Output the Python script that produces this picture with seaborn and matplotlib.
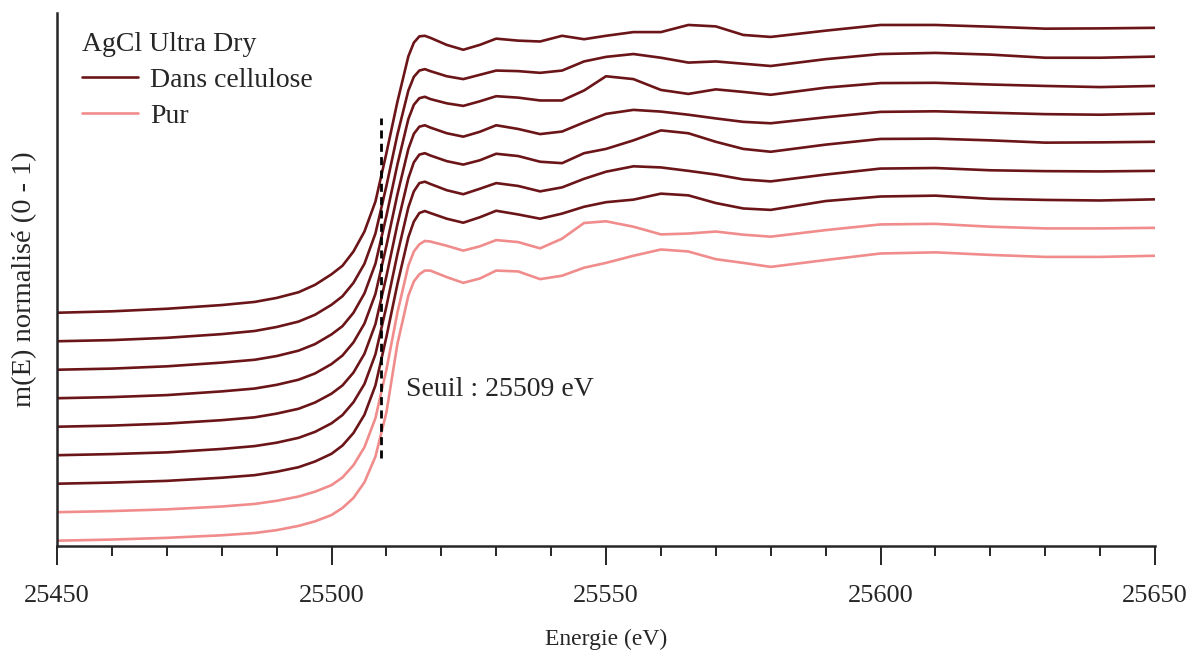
import numpy as np
import pandas as pd
import matplotlib
matplotlib.use('Agg')
import matplotlib.pyplot as plt
from matplotlib.ticker import MultipleLocator
import seaborn as sns

# energies (eV)
energie = [25450, 25460, 25470, 25480, 25486, 25490, 25494, 25497, 25500, 25502,
           25504, 25506, 25508, 25510, 25512, 25514, 25515, 25516, 25517, 25518,
           25521, 25524, 25527, 25530, 25534, 25538, 25542, 25546, 25550, 25555,
           25560, 25565, 25570, 25575, 25580, 25590, 25600, 25610, 25620, 25630,
           25640, 25650]

# spectres normalises, du haut vers le bas
cellulose_1 = [0.000, 0.005, 0.014, 0.027, 0.038, 0.052, 0.072, 0.098, 0.135, 0.165,
               0.215, 0.285, 0.390, 0.560, 0.740, 0.900, 0.948, 0.970, 0.972, 0.965,
               0.940, 0.923, 0.940, 0.962, 0.955, 0.952, 0.972, 0.960, 0.972, 0.985,
               0.985, 1.010, 1.005, 0.975, 0.968, 0.990, 1.010, 1.010, 1.004, 0.997,
               0.998, 1.000]
cellulose_2 = [0.000, 0.004, 0.012, 0.025, 0.036, 0.050, 0.069, 0.093, 0.128, 0.158,
               0.205, 0.272, 0.378, 0.545, 0.725, 0.880, 0.928, 0.950, 0.955, 0.948,
               0.930, 0.920, 0.935, 0.950, 0.948, 0.942, 0.950, 0.982, 0.998, 1.008,
               0.995, 0.978, 0.982, 0.974, 0.966, 0.990, 1.008, 1.012, 1.006, 0.995,
               0.995, 0.999]
cellulose_3 = [0.000, 0.004, 0.012, 0.025, 0.035, 0.048, 0.067, 0.090, 0.124, 0.153,
               0.200, 0.268, 0.372, 0.540, 0.720, 0.880, 0.930, 0.953, 0.958, 0.950,
               0.935, 0.926, 0.942, 0.960, 0.955, 0.945, 0.945, 0.980, 1.030, 1.020,
               0.982, 0.968, 0.984, 0.975, 0.965, 0.990, 1.006, 1.007, 1.001, 0.996,
               0.992, 0.996]
cellulose_4 = [0.000, 0.004, 0.011, 0.024, 0.034, 0.047, 0.065, 0.087, 0.120, 0.150,
               0.196, 0.262, 0.366, 0.535, 0.715, 0.875, 0.928, 0.953, 0.958, 0.950,
               0.930, 0.918, 0.935, 0.958, 0.945, 0.927, 0.936, 0.968, 0.998, 1.012,
               1.006, 0.995, 0.982, 0.970, 0.965, 0.986, 1.005, 1.007, 1.002, 0.997,
               0.995, 0.999]
cellulose_5 = [0.000, 0.004, 0.011, 0.023, 0.033, 0.046, 0.063, 0.085, 0.116, 0.145,
               0.190, 0.256, 0.360, 0.528, 0.710, 0.872, 0.928, 0.955, 0.960, 0.952,
               0.932, 0.920, 0.935, 0.958, 0.950, 0.930, 0.925, 0.960, 0.975, 1.005,
               1.040, 1.030, 1.000, 0.975, 0.965, 0.990, 1.010, 1.011, 1.005, 0.997,
               0.998, 1.000]
cellulose_6 = [0.000, 0.004, 0.010, 0.022, 0.032, 0.044, 0.061, 0.082, 0.112, 0.141,
               0.186, 0.250, 0.354, 0.522, 0.705, 0.870, 0.926, 0.955, 0.960, 0.952,
               0.930, 0.916, 0.935, 0.955, 0.945, 0.926, 0.940, 0.970, 0.995, 1.014,
               1.010, 0.998, 0.985, 0.968, 0.961, 0.985, 1.006, 1.008, 1.000, 0.997,
               0.996, 0.998]
cellulose_7 = [0.000, 0.004, 0.010, 0.021, 0.030, 0.042, 0.058, 0.078, 0.105, 0.134,
               0.178, 0.242, 0.345, 0.515, 0.700, 0.865, 0.920, 0.950, 0.957, 0.950,
               0.930, 0.916, 0.935, 0.958, 0.945, 0.930, 0.948, 0.972, 0.988, 0.997,
               1.018, 1.012, 0.985, 0.966, 0.961, 0.992, 1.008, 1.011, 1.000, 0.996,
               0.994, 0.998]
pur_1 = [0.000, 0.004, 0.010, 0.020, 0.029, 0.040, 0.055, 0.072, 0.095, 0.122,
         0.165, 0.228, 0.330, 0.500, 0.700, 0.865, 0.915, 0.940, 0.952, 0.950,
         0.935, 0.918, 0.933, 0.955, 0.948, 0.926, 0.960, 1.015, 1.021, 1.002,
         0.975, 0.978, 0.985, 0.974, 0.967, 0.990, 1.010, 1.012, 1.002, 0.996,
         0.996, 0.998]
pur_2 = [0.000, 0.004, 0.010, 0.019, 0.027, 0.037, 0.052, 0.068, 0.090, 0.115,
         0.150, 0.205, 0.295, 0.450, 0.690, 0.860, 0.910, 0.935, 0.948, 0.948,
         0.925, 0.905, 0.920, 0.948, 0.945, 0.918, 0.930, 0.958, 0.975, 1.000,
         1.022, 1.015, 0.988, 0.975, 0.961, 0.985, 1.008, 1.012, 1.003, 0.996,
         0.996, 1.000]

courbes = [cellulose_1, cellulose_2, cellulose_3, cellulose_4, cellulose_5,
           cellulose_6, cellulose_7, pur_1, pur_2]
types = ['Dans cellulose'] * 7 + ['Pur'] * 2
seuil = 25509

decalage = 0.1  # ecart vertical entre spectres
couleurs = {'Dans cellulose': '#6b1518', 'Pur': '#f08c8c'}

rows = []
n = len(courbes)
for i, (vals, t) in enumerate(zip(courbes, types)):
    for e, v in zip(energie, vals):
        rows.append({'energie': e, 'mu': v + (n - 1 - i) * decalage,
                     'courbe': i, 'echantillon': t})
df = pd.DataFrame(rows)

sns.set_style('ticks')
plt.rcParams['font.family'] = ['Liberation Serif', 'DejaVu Serif']

fig = plt.figure(figsize=(11.93, 6.53), dpi=100)
ax = fig.add_axes([57 / 1193, 107 / 653, 1098 / 1193, 533 / 653])

sns.lineplot(data=df, x='energie', y='mu', hue='echantillon', units='courbe',
             estimator=None, sort=False, palette=couleurs, linewidth=1.9, ax=ax)

ax.vlines(seuil, 0.29, 1.483, colors='black', linestyles=(0, (2.9, 1.9)),
          linewidth=2, zorder=5)
ax.text(25513.6, 0.529, 'Seuil : 25509 eV', fontsize=20, ha='left', va='center')

ax.set_xlim(25450, 25650)
ax.set_ylim(-0.0186, 1.852)
ax.set_yticks([])
ax.xaxis.set_major_locator(MultipleLocator(50))
ax.xaxis.set_minor_locator(MultipleLocator(10))
ax.tick_params(axis='x', which='major', length=14, width=1.4, labelsize=19, pad=14)
ax.tick_params(axis='x', which='minor', length=7, width=1.4)
sns.despine(ax=ax)
for s in ['left', 'bottom']:
    ax.spines[s].set_linewidth(1.8)

ax.set_xlabel('Energie (eV)', fontsize=17, labelpad=16)
ax.set_ylabel('m(E) normalisé (0 - 1)', fontsize=20.5, labelpad=14)

handles, labels = ax.get_legend_handles_labels()
ax.legend(handles, labels, title='AgCl Ultra Dry', loc='upper left',
          bbox_to_anchor=(0.0228, 0.964), frameon=False, fontsize=20,
          title_fontsize=20, handlelength=2.0, handletextpad=0.45,
          alignment='left', borderpad=0, borderaxespad=0, labelspacing=0.38)

fig.savefig('out.png', dpi=100)
